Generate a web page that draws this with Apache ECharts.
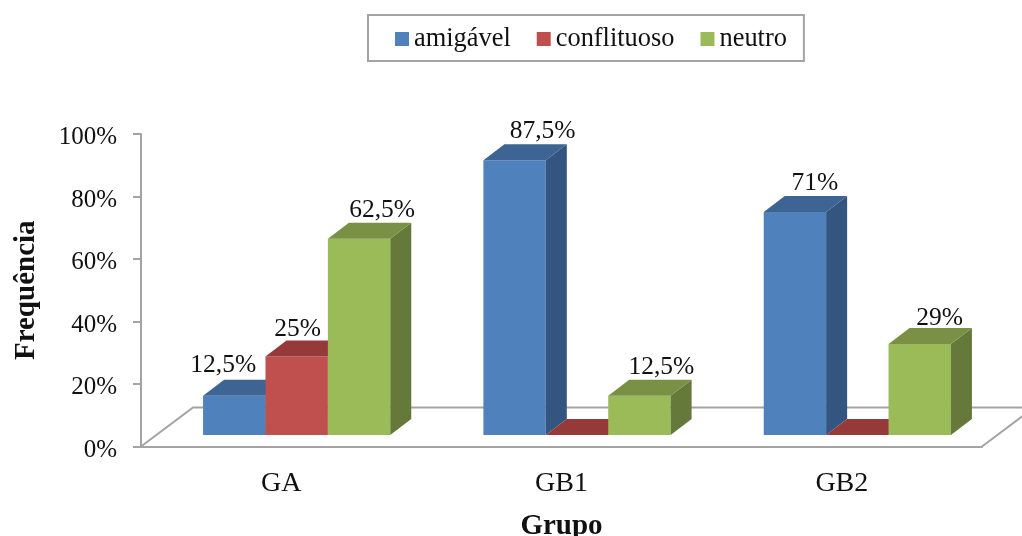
<!DOCTYPE html>
<html>
<head>
<meta charset="utf-8">
<style>
  html, body { margin: 0; padding: 0; background: #fff; }
  #chart { width: 1022px; height: 536px; }
</style>
<script src="https://cdn.jsdelivr.net/npm/echarts@6/dist/echarts.min.js"></script>
</head>
<body>
<div id="chart"></div>
<script>
const categories = ['GA', 'GB1', 'GB2']
const amigavel = [12.5, 87.5, 71]
const conflituoso = [25, 0, 0]
const neutro = [62.5, 12.5, 29]
const amigavelLabels = ['12,5%', '87,5%', '71%']
const conflituosoLabels = ['25%', '', '']
const neutroLabels = ['62,5%', '12,5%', '29%']
const yTicks = [0, 20, 40, 60, 80, 100]

const FONT = '"Liberation Serif", "Times New Roman", serif'
const AXIS_COLOR = '#a3a3a3'
const TEXT_COLOR = '#111'

// deslocamentos da perspectiva, em pixels
const FLOOR_DX = 52, FLOOR_DY = 39
const BAR_DX = 21, BAR_DY = 16
const BAR_SHIFT_X = 15.5, BAR_SHIFT_Y = 11.5
const BAR_WIDTH = 62.4
const FRONT_SCALE = 1.005

// o chão do gráfico, atrás das barras
const renderFloor = (params, api) => {
  const cs = params.coordSys
  const left = cs.x, right = cs.x + cs.width, bottom = cs.y + cs.height
  return {
    type: 'polyline',
    silent: true,
    shape: {
      points: [
        [left, bottom],
        [left + FLOOR_DX, bottom - FLOOR_DY],
        [right + FLOOR_DX, bottom - FLOOR_DY],
        [right, bottom]
      ]
    },
    style: { stroke: AXIS_COLOR, lineWidth: 2, fill: null }
  }
}

// cada barra: frente, lado e topo
const makeBarRenderer = (slot, labels, labelPos, colors) => (params, api) => {
  const i = api.value(0)
  const base = api.coord([i, 0])
  const top = api.coord([i, api.value(1)])
  const x0 = base[0] + BAR_SHIFT_X + (slot - 1.5) * BAR_WIDTH
  const x1 = x0 + BAR_WIDTH
  const y0 = base[1] - BAR_SHIFT_Y
  const y1 = y0 - (base[1] - top[1]) * FRONT_SCALE
  const children = []
  if (y0 - y1 > 0) {
    children.push({
      type: 'rect',
      shape: { x: x0, y: y1, width: BAR_WIDTH, height: y0 - y1 },
      style: { fill: colors.front }
    })
    children.push({
      type: 'polygon',
      shape: { points: [[x1, y0], [x1 + BAR_DX, y0 - BAR_DY], [x1 + BAR_DX, y1 - BAR_DY], [x1, y1]] },
      style: { fill: colors.side }
    })
  }
  children.push({
    type: 'polygon',
    shape: { points: [[x0, y1], [x0 + BAR_DX, y1 - BAR_DY], [x1 + BAR_DX, y1 - BAR_DY], [x1, y1]] },
    style: { fill: colors.top }
  })
  if (labels[i]) {
    children.push({
      type: 'text',
      x: x0 + BAR_WIDTH / 2 + labelPos.dx[i],
      y: y1 - labelPos.rise[i],
      style: {
        text: labels[i],
        font: '25.5px ' + FONT,
        fill: TEXT_COLOR,
        align: 'center',
        verticalAlign: 'middle'
      }
    })
  }
  return { type: 'group', children }
}

const barSeries = (name, values, slot, labels, labelPos, colors) => ({
  name,
  type: 'custom',
  coordinateSystem: 'cartesian2d',
  clip: false,
  itemStyle: { color: colors.front },
  encode: { x: 0, y: 1 },
  data: values.map((v, i) => [i, v]),
  renderItem: makeBarRenderer(slot, labels, labelPos, colors),
  z: 3
})

const chart = echarts.init(document.getElementById('chart'))
chart.setOption({
  animation: false,
  backgroundColor: '#fff',
  legend: {
    data: ['amigável', 'conflituoso', 'neutro'],
    left: 368,
    top: 15,
    padding: [11, 17, 9, 27],
    itemWidth: 14,
    itemHeight: 14,
    itemGap: 26,
    icon: 'rect',
    borderColor: AXIS_COLOR,
    borderWidth: 2,
    textStyle: { fontFamily: FONT, fontSize: 26.4, color: TEXT_COLOR }
  },
  grid: { left: 141, right: 40, top: 134, bottom: 89.5, outerBoundsMode: 'none' },
  xAxis: {
    type: 'category',
    data: categories,
    name: 'Grupo',
    nameLocation: 'middle',
    nameGap: 66,
    nameTextStyle: { fontFamily: FONT, fontSize: 29, fontWeight: 'bold', color: TEXT_COLOR },
    axisLine: { lineStyle: { color: AXIS_COLOR, width: 2 } },
    axisTick: { length: 9, lineStyle: { color: AXIS_COLOR, width: 2 } },
    axisLabel: { fontFamily: FONT, fontSize: 28, color: TEXT_COLOR, margin: 23 }
  },
  yAxis: {
    type: 'value',
    min: yTicks[0],
    max: yTicks[yTicks.length - 1],
    interval: 20,
    name: 'Frequência',
    nameLocation: 'middle',
    nameGap: 100,
    nameTextStyle: { fontFamily: FONT, fontSize: 29, fontWeight: 'bold', color: TEXT_COLOR },
    splitLine: { show: false },
    axisLine: { show: true, lineStyle: { color: AXIS_COLOR, width: 2 } },
    axisTick: { show: true, length: 8, lineStyle: { color: AXIS_COLOR, width: 2 } },
    axisLabel: {
      fontFamily: FONT, fontSize: 25, color: TEXT_COLOR, margin: 24,
      verticalAlign: 'top', lineHeight: 7, formatter: '{value}%'
    }
  },
  series: [
    {
      type: 'custom',
      coordinateSystem: 'cartesian2d',
      clip: false,
      silent: true,
      data: [[0, 0]],
      renderItem: renderFloor,
      z: 1
    },
    barSeries('amigável', amigavel, 0, amigavelLabels, { dx: [-11, 28, 20], rise: [30, 29, 28.5] },
      { front: '#4f81bd', side: '#335580', top: '#3e6494' }),
    barSeries('conflituoso', conflituoso, 1, conflituosoLabels, { dx: [1, 0, 0], rise: [27, 0, 0] },
      { front: '#c0504d', side: '#7e3533', top: '#953a38' }),
    barSeries('neutro', neutro, 2, neutroLabels, { dx: [23, 22, 20], rise: [28, 28, 26] },
      { front: '#9bbb59', side: '#657a3a', top: '#7a9145' })
  ]
})
</script>
</body>
</html>
